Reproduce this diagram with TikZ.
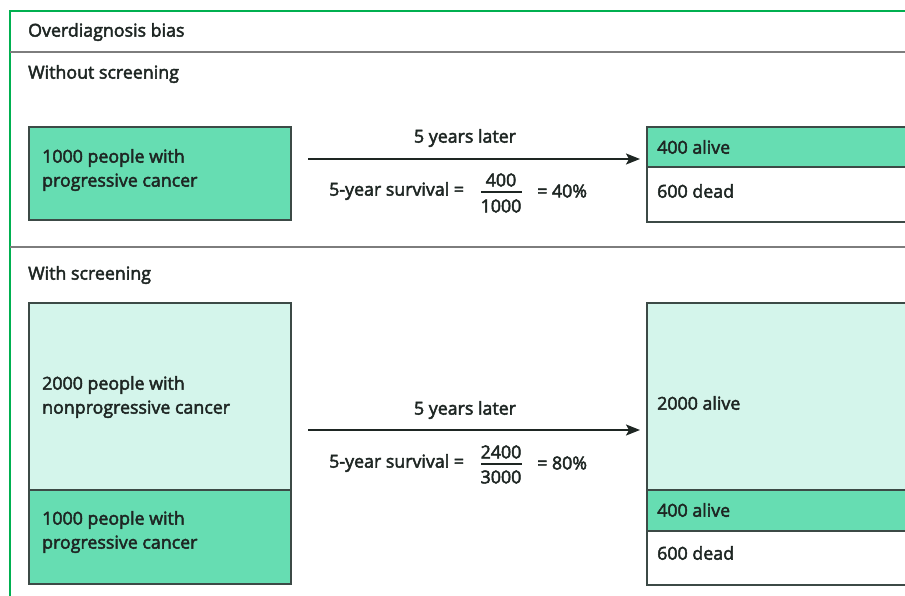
\documentclass[tikz,border=0pt]{standalone}
\usepackage{fontspec}
\newfontfamily\lblfont{Open Sans}[FakeBold=2.6]
\usetikzlibrary{arrows.meta}
\definecolor{midg}{RGB}{102,221,178}
\definecolor{lightg}{RGB}{212,245,235}
\definecolor{edge}{RGB}{60,74,70}
\definecolor{ink}{RGB}{30,38,35}
\definecolor{sepgray}{RGB}{125,125,125}
\definecolor{frameg}{RGB}{0,176,80}
\begin{document}
\begin{tikzpicture}[x=1pt,y=-1pt,
  font=\lblfont\fontsize{17.8}{24}\selectfont,
  txt/.style={anchor=west,inner sep=0pt,text=ink,align=left},
  ctr/.style={inner sep=0pt,text=ink},
  boxbase/.style={draw=edge,line width=1.6pt,anchor=north west,inner sep=0pt,outer sep=0pt},
  midbox/.style={boxbase,fill=midg},
  lightbox/.style={boxbase,fill=lightg},
  whitebox/.style={boxbase,fill=white},
  sepline/.style={draw=sepgray,line width=2.4pt},
  frameline/.style={draw=frameg,line width=2.2pt},
  arr/.style={draw=ink,line width=1.5pt,-{Stealth[length=14pt,width=11pt,inset=3pt]}},
  fracbar/.style={draw=ink,line width=1.3pt}]
\useasboundingbox (0,0) rectangle (905,595);
\fill[white] (0,0) rectangle (905,595);
% frame
\coordinate (ftl) at (10,11);
\coordinate (fbl) at (10,600);
\coordinate (ftr) at (910,11);
\draw[frameline] (fbl) -- (ftl) -- (ftr);
% separators
\coordinate (s1l) at (10,52);
\coordinate (s1r) at (910,52);
\coordinate (s2l) at (10,247);
\coordinate (s2r) at (910,247);
\draw[sepline] (s1l) -- (s1r);
\draw[sepline] (s2l) -- (s2r);
% headings
\node[txt] (title) at (28,32) {Overdiagnosis bias};
\node[txt] (hwo) at (28,74) {Without screening};
\node[txt] (hw) at (28,275) {With screening};
% --- without screening
\node[midbox,minimum width=262pt,minimum height=93pt] (b1) at (29,127) {};
\node[txt] (b1t) at (42,170) {1000 people with\\progressive cancer};
\node[midbox,minimum width=270pt,minimum height=40pt] (r1a) at (647,127) {};
\node[whitebox,minimum width=270pt,minimum height=55pt] (r1b) at (647,167) {};
\node[txt] (r1at) at (657,147) {400 alive};
\node[txt] (r1bt) at (657,191) {600 dead};
\coordinate (a1s) at (308,159);
\coordinate (a1e) at (640,159);
\draw[arr] (a1s) -- (a1e);
\node[ctr] (l1) at (465,138) {5 years later};
\node[txt] (f1) at (329,191) {5-year survival =};
\node[ctr] (n1) at (501,180) {400};
\node[ctr] (d1) at (501,206) {1000};
\draw[fracbar] (481,192) -- (522,192);
\node[txt] (p1) at (537,191) {= 40\%};
% --- with screening
\node[lightbox,minimum width=262pt,minimum height=187pt] (b2) at (29,303) {};
\node[midbox,minimum width=262pt,minimum height=94pt] (b3) at (29,490) {};
\node[txt] (b2t) at (42,397) {2000 people with\\nonprogressive cancer};
\node[txt] (b3t) at (42,532) {1000 people with\\progressive cancer};
\node[lightbox,minimum width=270pt,minimum height=187pt] (r2a) at (647,303) {};
\node[midbox,minimum width=270pt,minimum height=41pt] (r2b) at (647,490) {};
\node[whitebox,minimum width=270pt,minimum height=54pt] (r2c) at (647,531) {};
\node[txt] (r2at) at (657,403) {2000 alive};
\node[txt] (r2bt) at (657,510) {400 alive};
\node[txt] (r2ct) at (657,553) {600 dead};
\coordinate (a2s) at (308,430);
\coordinate (a2e) at (640,430);
\draw[arr] (a2s) -- (a2e);
\node[ctr] (l2) at (465,410) {5 years later};
\node[txt] (f2) at (329,463) {5-year survival =};
\node[ctr] (n2) at (501,452) {2400};
\node[ctr] (d2) at (501,477) {3000};
\draw[fracbar] (481,464) -- (522,464);
\node[txt] (p2) at (537,463) {= 80\%};
\end{tikzpicture}
\end{document}
